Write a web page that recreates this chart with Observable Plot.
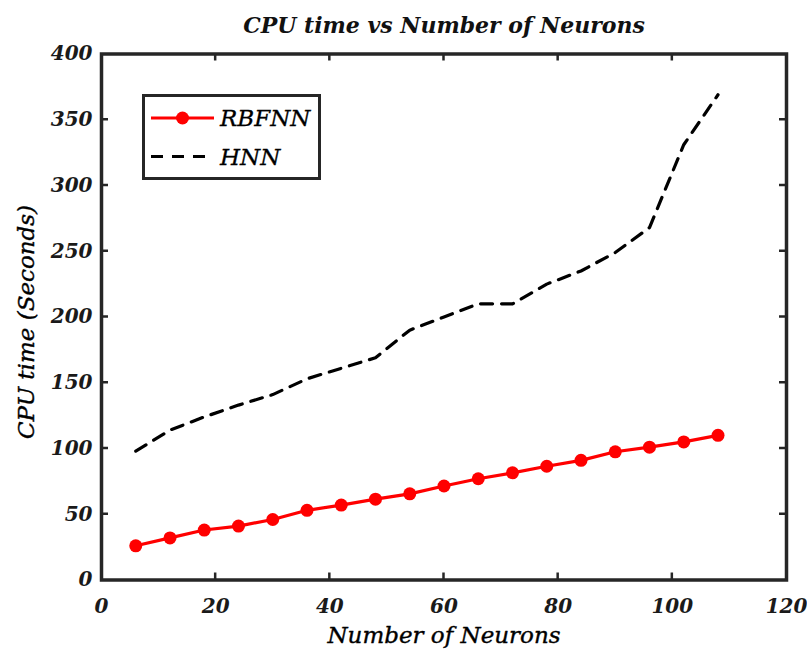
<!DOCTYPE html>
<html>
<head>
<meta charset="utf-8">
<script src="https://cdn.jsdelivr.net/npm/d3@7"></script>
<script src="https://cdn.jsdelivr.net/npm/@observablehq/plot@0.6"></script>
<style>
  html, body { margin: 0; padding: 0; background: #fff; }
  #chart svg { display: block; }
</style>
</head>
<body>
<div id="chart"></div>
<script>
// ---- data ----
const neurons = [6, 12, 18, 24, 30, 36, 42, 48, 54, 60, 66, 72, 78, 84, 90, 96, 102, 108];
const rbfnn   = [26, 32, 38, 41, 46, 53, 57, 61.5, 65.5, 71.5, 77, 81.5, 86.5, 91, 97.5, 101, 105, 110];
const hnn     = [98, 114, 124, 133, 141, 153, 161, 169, 190, 200, 210, 210, 225, 235, 249, 268, 331, 369];
const seriesNames = ["RBFNN", "HNN"];
const xTicks = [0, 20, 40, 60, 80, 100, 120];
const yTicks = [0, 50, 100, 150, 200, 250, 300, 350, 400];
const titleText = "CPU time vs Number of Neurons";
const xLabel = "Number of Neurons";
const yLabel = "CPU time (Seconds)";

// ---- layout ----
const width = 807, height = 660;
const mL = 101, mR = 21, mT = 53.5, mB = 80.5;
const tickLen = 7;
const font = "'DejaVu Serif', 'Liberation Serif', serif";
const axisColor = "#262626";

const rows = neurons.map((n, i) => ({n, rbfnn: rbfnn[i], hnn: hnn[i]}));

const plot = Plot.plot({
  width, height,
  marginLeft: mL, marginRight: mR, marginTop: mT, marginBottom: mB,
  style: {fontFamily: font, background: "#fff", overflow: "visible"},
  x: {domain: [0, 120], ticks: xTicks},
  y: {domain: [0, 400], ticks: yTicks},
  marks: [
    // HNN dashed line
    Plot.line(rows, {x: "n", y: "hnn", stroke: "#000", strokeWidth: 3.2, strokeDasharray: "12,9"}),
    // RBFNN red line with markers
    Plot.line(rows, {x: "n", y: "rbfnn", stroke: "#ff0000", strokeWidth: 3.2}),
    Plot.dot(rows, {x: "n", y: "rbfnn", r: 6.5, fill: "#ff0000", stroke: null}),
    Plot.frame({stroke: axisColor, strokeWidth: 3.5}),
    // tick labels
    Plot.axisX({ticks: xTicks, tickSize: 0, tickPadding: 19, label: null, fontSize: 20,
      fontStyle: "italic", fontWeight: "bold", fill: "#1a1a1a"}),
    Plot.axisY({ticks: yTicks, tickSize: 0, tickPadding: 9, label: null, fontSize: 20,
      fontStyle: "italic", fontWeight: "bold", fill: "#1a1a1a"}),
    // title and axis labels
    Plot.text([titleText], {text: d => d, frameAnchor: "top", lineAnchor: "middle", textAnchor: "middle",
      dy: -28, fontSize: 22, fontStyle: "italic", fontWeight: "bold", fill: "#111"}),
    Plot.text([xLabel], {text: d => d, frameAnchor: "bottom", lineAnchor: "middle", textAnchor: "middle",
      dy: 56, fontSize: 23, fontStyle: "italic", fill: "#000", stroke: "#000", strokeWidth: 0.4}),
    Plot.text([yLabel], {text: d => d, frameAnchor: "left", lineAnchor: "middle", textAnchor: "middle",
      dx: -75, dy: 5, rotate: -90, fontSize: 23, fontStyle: "italic", fill: "#000", stroke: "#000", strokeWidth: 0.4})
  ]
});

document.getElementById("chart").appendChild(plot);

// ---- inward tick marks on all four sides, positioned with Plot's own scales ----
const sx = plot.scale("x"), sy = plot.scale("y");
const svg = d3.select(plot);
const tg = svg.append("g").attr("stroke", axisColor).attr("stroke-width", 2.5);
const frameTop = mT, frameBottom = height - mB, frameLeft = mL, frameRight = width - mR;
xTicks.slice(1, -1).forEach(v => {
  const px = sx.apply(v);
  tg.append("line").attr("x1", px).attr("x2", px).attr("y1", frameBottom).attr("y2", frameBottom - tickLen);
  tg.append("line").attr("x1", px).attr("x2", px).attr("y1", frameTop).attr("y2", frameTop + tickLen);
});
yTicks.slice(1, -1).forEach(v => {
  const py = sy.apply(v);
  tg.append("line").attr("y1", py).attr("y2", py).attr("x1", frameLeft).attr("x2", frameLeft + tickLen);
  tg.append("line").attr("y1", py).attr("y2", py).attr("x1", frameRight).attr("x2", frameRight - tickLen);
});

// ---- legend ----
const lg = svg.append("g").attr("class", "legend");
lg.append("rect").attr("x", 143.5).attr("y", 95.5).attr("width", 176).attr("height", 83)
  .attr("fill", "#fff").attr("stroke", axisColor).attr("stroke-width", 3);
const legendRows = [
  {name: seriesNames[0], y: 118, color: "#ff0000", dash: null, marker: true},
  {name: seriesNames[1], y: 156.5, color: "#000", dash: "12,9", marker: false}
];
legendRows.forEach(r => {
  lg.append("line").attr("x1", 151).attr("x2", 214).attr("y1", r.y).attr("y2", r.y)
    .attr("stroke", r.color).attr("stroke-width", 3.2)
    .attr("stroke-dasharray", r.dash);
  if (r.marker) lg.append("circle").attr("cx", 182.5).attr("cy", r.y).attr("r", 6.5).attr("fill", r.color);
  lg.append("text").attr("x", 220).attr("y", r.y).attr("dy", "0.35em")
    .attr("text-anchor", "start")
    .attr("font-family", font).attr("font-style", "italic").attr("font-size", 23)
    .attr("fill", "#000").attr("stroke", "#000").attr("stroke-width", 0.3).text(r.name);
});
</script>
</body>
</html>
